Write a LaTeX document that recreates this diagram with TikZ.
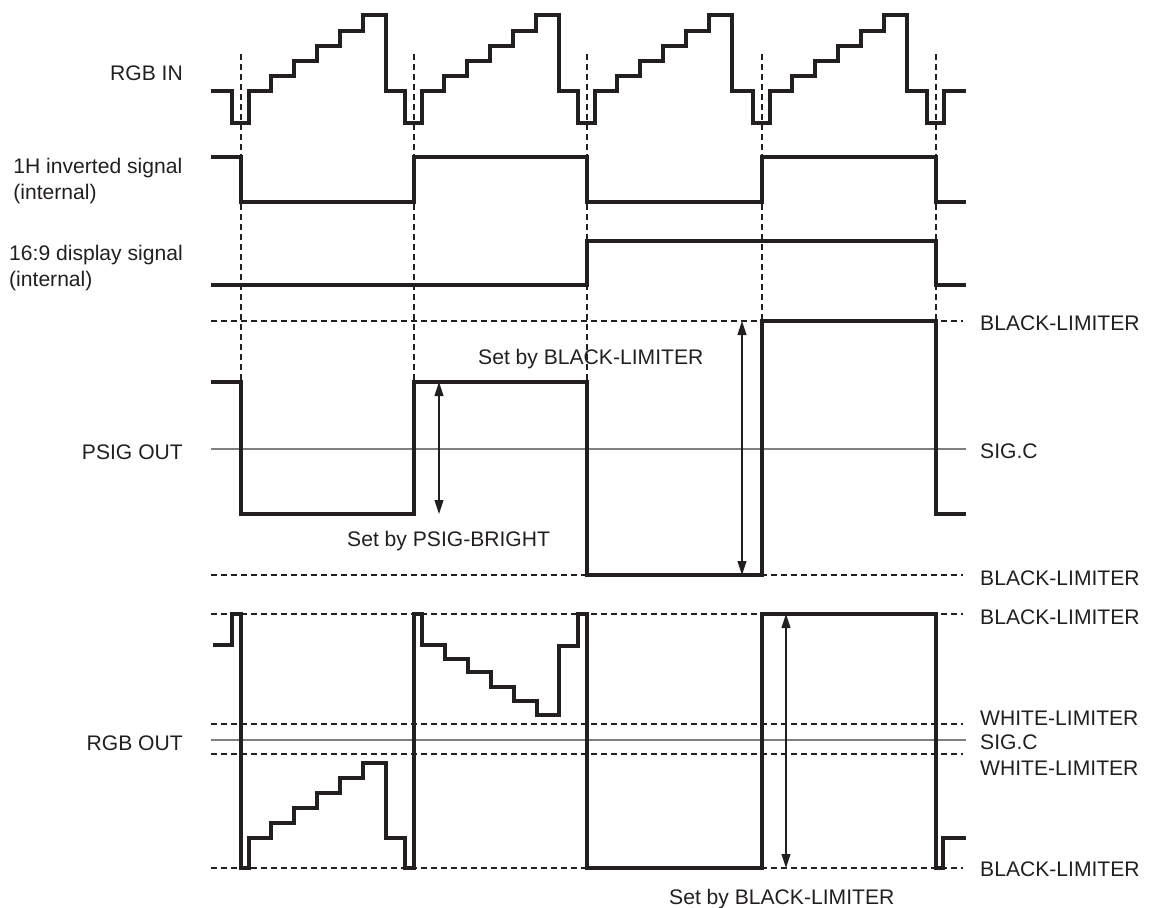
\documentclass[tikz,border=0pt]{standalone}
\usepackage{fontspec}
\setmainfont{Liberation Sans}
\usetikzlibrary{arrows.meta}
\definecolor{ink}{HTML}{231F20}
\definecolor{midline}{HTML}{808080}
\tikzset{
  wave/.style={line width=3.1pt, draw=ink, line join=miter},
  guide/.style={line width=1.2pt, draw=ink, dash pattern=on 5.5pt off 4.5pt},
  vguide/.style={line width=1.1pt, draw=ink, dash pattern=on 5.5pt off 4.5pt},
  centre/.style={line width=1.4pt, draw=midline},
  span/.style={line width=1.1pt, draw=ink, {Triangle[length=14pt,width=9pt]}-{Triangle[length=14pt,width=9pt]}},
  lbl/.style={inner sep=0pt, text=ink, font=\fontsize{21.1}{25}\selectfont},
}
\begin{document}
\begin{tikzpicture}[x=1pt,y=-1pt]
\useasboundingbox (0,0) rectangle (1152,908);
% timing markers
\foreach \m in {241,414,587} \draw[vguide] (\m,54) -- (\m,382);
\foreach \m in {762,936} \draw[vguide] (\m,54) -- (\m,321);
% level guides
\foreach \yy in {321,575,614,724,754,868} \draw[guide] (211,\yy) -- (963,\yy);
\draw[centre] (211,449) -- (966,449);
\draw[centre] (211,740) -- (966,740);
% RGB IN
\draw[wave] (211,91) \foreach \m in {241,414,587,762}{
  -- ({\m-9},91) -- ({\m-9},123) -- ({\m+8},123) -- ({\m+8},91)
  -- ({\m+30},91) -- ({\m+30},76) -- ({\m+53},76) -- ({\m+53},61)
  -- ({\m+76},61) -- ({\m+76},46) -- ({\m+99},46) -- ({\m+99},31)
  -- ({\m+122},31) -- ({\m+122},15) -- ({\m+145},15) -- ({\m+145},91) }
  -- (927,91) -- (927,123) -- (944,123) -- (944,91) -- (966,91);
% 1H inverted
\draw[wave] (211,157) -- (241,157) -- (241,202) -- (414,202) -- (414,157) -- (587,157) -- (587,202) -- (762,202) -- (762,157) -- (936,157) -- (936,202) -- (966,202);
% 16:9
\draw[wave] (211,285) -- (587,285) -- (587,241) -- (936,241) -- (936,285) -- (966,285);
% PSIG OUT
\draw[wave] (211,382) -- (241,382) -- (241,514) -- (414,514) -- (414,382) -- (587,382) -- (587,575) -- (762,575) -- (762,321) -- (936,321) -- (936,514) -- (966,514);
% RGB OUT
\draw[wave] (213,645) -- (232,645) -- (232,614) -- (241,614) -- (241,868) -- (249,868) -- (249,838)
  -- (271,838) -- (271,823) -- (294,823) -- (294,808) -- (317,808) -- (317,793) -- (340,793) -- (340,778)
  -- (363,778) -- (363,763) -- (386,763) -- (386,838) -- (405,838) -- (405,868) -- (414,868) -- (414,614)
  -- (422,614) -- (422,645) -- (445,645) -- (445,659) -- (468,659) -- (468,672) -- (491,672) -- (491,687)
  -- (514,687) -- (514,701) -- (537,701) -- (537,715) -- (559,715) -- (559,646) -- (578,646) -- (578,614)
  -- (587,614) -- (587,868) -- (762,868) -- (762,614) -- (936,614) -- (936,868) -- (943,868) -- (943,838) -- (966,838);
% span arrows
\coordinate (a1t) at (439,382); \coordinate (a1b) at (439,514);
\coordinate (a2t) at (742,321); \coordinate (a2b) at (742,575);
\coordinate (a3t) at (786,614); \coordinate (a3b) at (786,868);
\draw[span] (a1t) -- (a1b);
\draw[span] (a2t) -- (a2b);
\draw[span] (a3t) -- (a3b);
% left labels
\node[lbl, anchor=base east] (rgbin) at (183,80.5) {RGB IN};
\node[lbl, anchor=base east] (h1a) at (182.5,173.3) {1H inverted signal};
\node[lbl, anchor=base west] (h1b) at ([yshift=-26pt]h1a.base west) {(internal)};
\node[lbl, anchor=base east] (d169a) at (183,260) {16:9 display signal};
\node[lbl, anchor=base west] (d169b) at ([yshift=-26pt]d169a.base west) {(internal)};
\node[lbl, anchor=base east] (psig) at (183,459) {PSIG OUT};
\node[lbl, anchor=base east] (rgbout) at (183,750) {RGB OUT};
% right labels
\node[lbl, anchor=base west] (r1) at (980,330.5) {BLACK-LIMITER};
\node[lbl, anchor=base west] (r2) at (980,458) {SIG.C};
\node[lbl, anchor=base west] (r3) at (980,585) {BLACK-LIMITER};
\node[lbl, anchor=base west] (r4) at (980,624) {BLACK-LIMITER};
\node[lbl, anchor=base west] (r5) at (980,725) {WHITE-LIMITER};
\node[lbl, anchor=base west] (r6) at (980,749) {SIG.C};
\node[lbl, anchor=base west] (r7) at (980,775) {WHITE-LIMITER};
\node[lbl, anchor=base west] (r8) at (980,876.5) {BLACK-LIMITER};
% annotations
\node[lbl, anchor=base west] (n1) at (478,364) {Set by BLACK-LIMITER};
\node[lbl, anchor=base west] (n2) at (347,546) {Set by PSIG-BRIGHT};
\node[lbl, anchor=base west] (n3) at (669,904) {Set by BLACK-LIMITER};
\end{tikzpicture}
\end{document}
